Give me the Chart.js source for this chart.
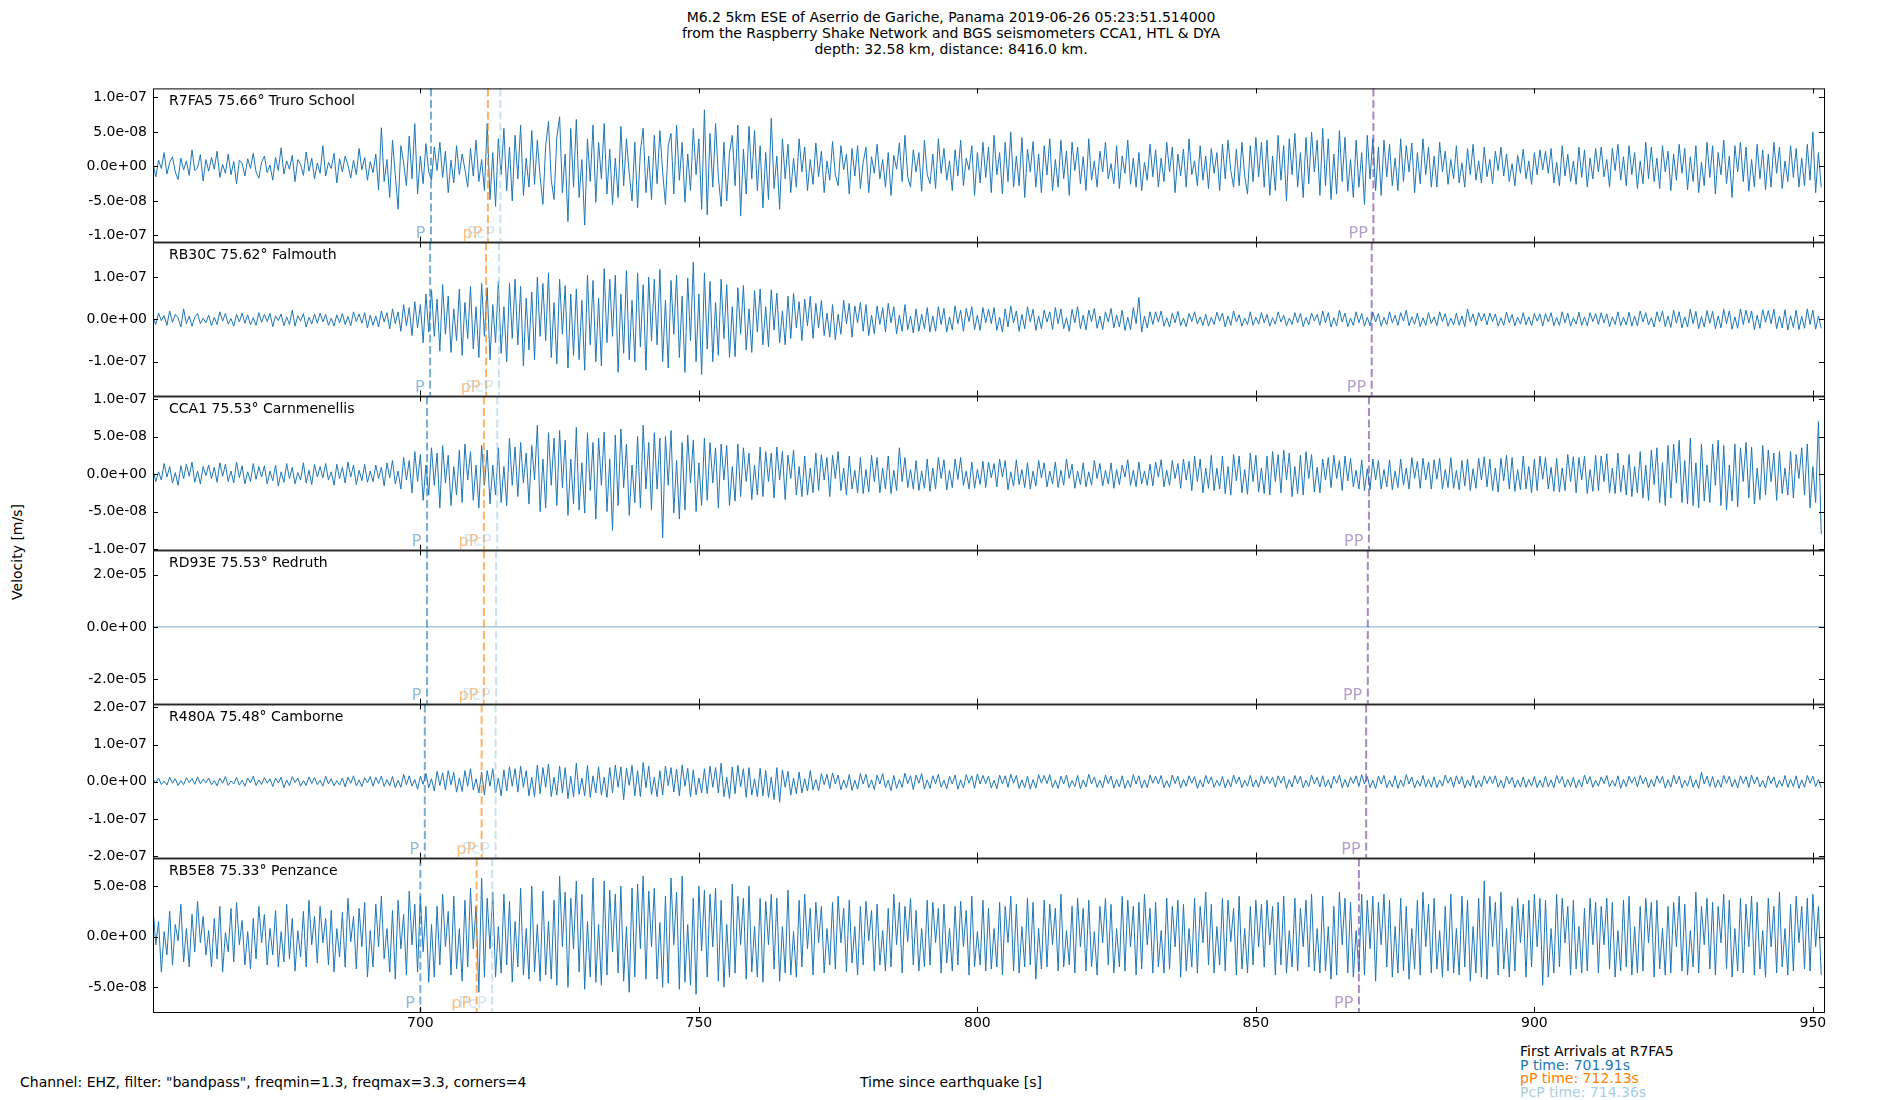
<!DOCTYPE html>
<html>
<head>
<meta charset="utf-8">
<script src="https://cdn.jsdelivr.net/npm/chart.js@4.4.1/dist/chart.umd.min.js"></script>
<style>
  body { margin: 0; width: 1900px; height: 1100px; background: #fff; position: relative; overflow: hidden;
         font-family: "DejaVu Sans", sans-serif; }
  .t { position: absolute; font-size: 14px; line-height: 16px; color: #000; white-space: nowrap; }
  canvas { position: absolute; left: 0; }
</style>
</head>
<body>
<div class="t" style="left:0;width:1902px;text-align:center;top:9px">M6.2 5km ESE of Aserrio de Gariche, Panama 2019-06-26 05:23:51.514000</div>
<div class="t" style="left:0;width:1902px;text-align:center;top:25px">from the Raspberry Shake Network and BGS seismometers CCA1, HTL &amp; DYA</div>
<div class="t" style="left:0;width:1902px;text-align:center;top:41px">depth: 32.58 km, distance: 8416.0 km.</div>
<div class="t" style="left:17px;top:552px;transform:translate(-50%,-50%) rotate(-90deg)">Velocity [m/s]</div>
<div class="t" style="left:20px;top:1074px">Channel: EHZ, filter: "bandpass", freqmin=1.3, freqmax=3.3, corners=4</div>
<div class="t" style="left:0;width:1902px;text-align:center;top:1074px">Time since earthquake [s]</div>
<div class="t" style="left:1520px;top:1043px">First Arrivals at R7FA5</div>
<div class="t" style="left:1520px;top:1057px;color:#1f78b4">P time: 701.91s</div>
<div class="t" style="left:1520px;top:1070px;color:#ff7f00">pP time: 712.13s</div>
<div class="t" style="left:1520px;top:1084px;color:#a6cee3">PcP time: 714.36s</div>

<script>
// traces: one sample every 0.5 s from 652 s, values in 1e-9 m/s
const T0 = 652;
const DT = 0.5;

const r7fa5Vals = [
  4,-15,9,-3,20,-11,6,14,-8,-19,12,-5,8,-13,24,-6,-2,17,-21,10,
  -7,13,-4,22,-16,3,-10,18,-12,7,-25,9,5,-14,11,-3,19,-8,-17,6,
  15,-9,2,-20,13,-6,27,-11,8,-4,16,-22,10,3,-13,21,-7,12,-18,5,
  -10,30,-14,6,-3,19,-24,11,-8,15,2,-17,9,-12,26,-5,13,-20,7,-9,
  18,-34,56,-22,10,-45,38,-12,-62,30,5,-28,44,-18,62,-40,15,-25,33,-8,
  -20,28,-6,35,-16,22,-38,9,-24,30,-12,18,-4,-30,26,-14,38,-22,10,-35,
  62,-48,20,-58,40,-12,55,-35,28,-50,45,-18,60,-42,12,-30,52,-26,38,-15,
  -55,30,65,-20,-48,42,72,-38,18,-80,55,-30,68,-45,10,-85,40,-22,60,-52,
  35,-18,62,-40,25,-55,12,-45,58,-28,40,-10,-50,35,-60,22,55,-38,15,-48,
  45,-25,52,-8,-55,30,48,-40,60,-20,35,-52,18,-35,55,-12,40,-62,82,-70,
  48,-30,62,-15,-58,35,-50,20,45,-28,60,-72,25,-40,58,-18,52,-35,30,-60,
  20,-48,70,-32,15,-62,40,-18,32,-38,12,-30,40,-8,28,-35,10,-26,34,-15,
  22,-38,8,-20,36,-12,-28,30,-5,18,-40,26,-14,30,-32,6,28,-38,14,-10,
  32,-18,10,-30,20,-42,16,-4,34,-22,45,-15,-30,24,-8,20,-36,38,-12,-25,
  18,-32,40,-10,26,-20,8,-35,24,-14,38,-28,12,-5,30,-42,20,-24,35,-16,
  28,-38,45,-12,20,-40,35,-22,50,-30,15,-28,42,-45,25,-8,36,-30,18,-38,
  30,-12,40,-35,10,-30,38,-18,22,-42,35,-6,28,-25,14,-35,40,-20,8,-30,
  22,-8,35,-18,4,-25,30,-32,15,-10,38,-26,12,-30,20,-35,6,-20,32,-15,
  24,-30,12,-22,35,-8,28,-38,18,-14,25,-30,40,-12,8,-28,30,-20,15,-32,
  26,-10,20,-35,32,-18,38,-6,-30,25,-28,35,-14,-40,30,-22,42,-15,35,-30,
  38,-42,15,-35,45,-20,30,-50,40,-12,48,-30,20,-45,42,-25,50,-8,38,-42,
  55,-28,40,-48,18,-40,52,-22,42,-36,10,-45,38,-30,20,-55,45,-18,40,-35,
  28,-42,38,-15,32,-28,12,-35,40,-22,30,-8,34,-38,20,-25,40,-12,28,-30,
  15,-30,35,-8,22,-26,10,-18,30,-24,5,-30,26,-12,32,-20,8,-24,28,-15,
  10,-25,22,-6,28,-14,18,-22,4,-28,16,-10,25,-18,8,-26,20,-12,24,-5,
  22,-10,26,-24,6,-28,30,-14,18,-22,8,-26,28,-16,24,-30,12,-18,26,-8,
  28,-15,10,-30,26,-6,32,-20,14,-28,30,-12,20,-32,8,-25,35,-18,28,-22,
  12,-32,30,-8,22,-35,18,-20,32,-10,26,-34,14,-22,30,-38,6,-28,35,-16,
  30,-40,20,-12,38,-25,15,-45,30,-8,35,-22,28,-36,10,-30,32,-18,24,-34,
  18,-30,35,-10,28,-32,8,-22,30,-16,26,-30,12,-28,32,-20,50,-38,20,-30
];

const rb30cVals = [
  6,-12,15,-3,9,-14,20,-7,12,4,-18,25,-10,8,-16,5,14,-10,3,-8,
  10,-15,5,-12,18,-4,14,-11,2,-16,12,-6,15,-9,11,-13,4,-14,16,-7,
  12,-5,14,-17,8,-3,13,-15,6,-12,22,-16,9,-4,14,-18,5,-11,13,-9,
  15,-6,12,-14,3,-16,11,-8,14,-12,7,-15,18,-5,13,-9,16,-20,10,-14,
  8,-18,20,-6,16,-22,25,-10,18,-28,35,-15,28,-38,42,-20,35,-55,60,-30,
  70,-40,48,-75,82,-35,55,-78,25,-50,72,-85,40,-45,78,-70,30,-90,85,-40,
  75,-95,35,-55,90,-80,30,-100,85,-45,95,-60,78,-110,50,-72,65,-95,100,-40,
  85,-50,110,-90,40,-105,95,-35,80,-115,60,-85,72,-95,45,-120,105,-60,92,-100,
  50,-110,120,-55,95,-40,105,-125,60,-80,115,-95,45,-100,110,-65,82,-120,100,-50,
  95,-60,118,-100,45,-115,92,-35,105,-90,55,-125,98,-50,135,-100,60,-130,110,-70,
  90,-100,40,-85,95,-45,82,-90,30,-88,75,-35,80,-72,25,-78,68,-30,72,-60,
  30,-65,70,-25,62,-55,20,-60,55,-45,62,-20,42,-50,48,-15,55,-45,38,-20,
  45,-38,15,-42,35,-48,12,-35,45,-10,38,-42,32,-8,40,-28,35,-38,10,-34,
  32,-12,28,-30,38,-8,30,-34,10,-28,35,-24,8,-32,25,-28,12,-22,28,-30,
  8,-28,30,-12,26,-30,6,-25,32,-10,22,-28,26,-5,30,-24,10,-26,28,-8,
  24,-10,28,-26,5,-30,25,-18,32,-8,20,-28,12,-22,30,-6,24,-26,8,-22,
  22,-6,18,-24,28,-10,25,-22,4,-28,24,-8,30,-22,10,-25,22,-5,26,-21,
  8,-24,18,-6,26,-20,10,-18,22,-26,5,-24,28,-10,52,-30,8,-20,18,-12,
  18,-6,20,-16,4,-18,15,-8,19,-15,3,-17,14,-5,18,-11,6,-14,12,-16,
  5,-12,17,-4,15,-18,8,-14,20,-6,11,-16,3,-12,18,-14,5,-11,16,-8,
  12,-16,4,-11,18,-6,10,-15,3,-12,16,-8,14,-17,5,-13,15,-4,12,-14,
  20,-8,16,-18,4,-15,22,-6,15,-17,3,-14,18,-8,14,-16,5,-15,17,-6,
  14,-16,5,-13,18,-8,10,-14,16,-4,22,-15,6,-11,15,-17,4,-14,16,-10,
  6,-15,18,-5,14,-16,3,-13,15,-14,8,-17,25,-6,13,-15,16,-4,14,-13,
  15,-5,13,-16,4,-14,17,-8,12,-15,5,-11,16,-13,6,-15,14,-4,13,-16,
  14,-6,16,-15,5,-14,18,-8,15,-16,4,-11,17,-14,6,-15,16,-5,14,-12,
  16,-8,13,-17,6,-12,18,-15,5,-13,17,-16,8,-15,20,-6,16,-13,4,-18,
  18,-6,20,-17,8,-19,22,-9,18,-20,6,-18,24,-10,19,-22,7,-18,21,-9,
  19,-22,8,-20,24,-10,20,-23,6,-21,25,-12,22,-8,20,-24,10,-21,23,-7,
  21,-10,24,-22,8,-20,23,-25,9,-19,22,-24,7,-21,25,-12,22,-23,8,-21
];

const cca1Vals = [
  5,-10,3,-8,14,-4,10,-12,2,-15,11,-6,13,-3,16,-11,4,-13,10,-2,
  12,-6,9,-11,15,-3,13,-10,4,-12,16,-5,11,-13,3,-10,14,-7,10,-4,
  11,-13,4,-9,12,-16,3,-11,14,-6,9,-13,2,-8,15,-12,5,-14,13,-4,
  10,-5,14,-8,3,-15,13,-6,9,-12,16,-4,12,-14,5,-9,13,-11,4,-10,
  12,-6,9,-16,15,-5,18,-13,4,-20,22,-8,18,-25,30,-10,26,-35,12,-28,
  35,-15,28,-45,38,-12,25,-42,10,-28,32,-38,40,-8,30,-35,12,-45,38,-15,
  32,-40,12,-28,35,-38,10,-42,48,-15,36,-30,42,-12,28,-40,38,-8,65,-50,
  20,-45,55,-15,48,-42,58,-18,45,-55,20,-40,62,-48,15,-52,55,-22,42,-60,
  48,-15,56,-50,20,-75,52,-42,60,-18,40,-55,12,-38,50,-45,65,-20,42,-48,
  55,-20,48,-85,50,-15,58,-52,18,-60,42,-48,52,-12,45,-50,15,-42,48,-35,
  42,-12,35,-45,40,-8,38,-42,10,-36,40,-30,35,-10,28,-34,12,-28,36,-30,
  30,-10,28,-32,36,-8,30,-34,25,-6,32,-28,10,-30,24,-28,8,-25,28,-22,
  26,-8,22,-30,25,-6,30,-22,8,-28,24,-20,5,-25,22,-26,6,-24,25,-10,
  22,-25,8,-20,24,-26,5,-22,35,-10,22,-18,6,-20,18,-22,4,-19,20,-23,
  8,-20,22,-6,19,-21,5,-18,20,-7,22,-15,4,-20,16,-19,6,-14,17,-18,
  16,-5,14,-17,20,-4,18,-21,3,-16,19,-14,6,-18,15,-20,4,-16,18,-5,
  15,-17,4,-13,16,-18,5,-15,20,-6,13,-19,4,-14,15,-17,3,-15,18,-6,
  14,-16,5,-13,15,-19,6,-14,12,-4,19,-15,5,-17,16,-13,4,-15,13,-16,
  16,-4,19,-17,5,-15,18,-6,14,-19,20,-8,17,-22,24,-10,20,-25,8,-19,
  25,-22,8,-20,24,-26,10,-28,26,-9,24,-25,6,-27,28,-10,25,-24,8,-26,
  24,-28,30,-10,26,-25,32,-8,28,-30,10,-26,25,-28,30,-6,26,-24,9,-25,
  20,-8,22,-18,25,-6,18,-22,24,-9,21,-17,5,-20,19,-22,7,-21,20,-8,
  18,-20,6,-17,19,-21,4,-18,20,-15,8,-20,22,-6,17,-19,21,-8,16,-20,
  19,-7,21,-20,6,-18,22,-19,5,-21,18,-16,20,-22,7,-19,21,-8,23,-17,
  20,-22,8,-24,21,-9,25,-20,22,-23,6,-21,24,-20,10,-25,20,-22,24,-7,
  22,-20,9,-23,21,-24,8,-22,26,-10,23,-25,22,-8,24,-26,6,-23,25,-22,
  24,-10,27,-25,8,-26,28,-24,12,-28,26,-30,10,-25,30,-32,12,-35,32,-14,
  35,-38,15,-42,38,-32,40,-12,45,-38,18,-40,48,-42,15,-45,40,-36,12,-38,
  40,-15,45,-42,38,-48,12,-36,40,-44,35,-10,42,-32,36,-40,8,-34,38,-28,
  32,-10,28,-35,30,-26,8,-28,30,-32,26,-6,35,-28,40,-45,10,-38,70,-80
];

// RD93E stays flat for the whole window
const rd93eTimes = [652, 952];
const rd93eVals = [0, 0];

const r480aVals = [
  8,-3,10,-7,2,-9,12,-4,8,-10,3,-8,11,-2,9,-7,13,-5,7,-3,
  10,-8,3,-11,9,-4,14,-10,2,-6,12,-9,4,-12,10,-3,15,-10,5,-7,
  11,-4,8,-13,10,-3,12,-16,5,-11,14,-2,10,-12,3,-10,13,-5,11,-8,
  4,-12,15,-6,8,-11,3,-9,10,-14,12,-4,16,-11,5,-13,11,-3,14,-12,
  12,-5,15,-13,6,-11,14,-16,4,-15,20,-8,16,-12,6,-20,15,-7,22,-16,
  8,-25,28,-10,24,-22,30,-8,25,-28,10,-26,30,-12,35,-22,8,-30,26,-35,
  30,-12,35,-30,10,-38,32,-25,40,-12,35,-28,42,-15,30,-38,12,-40,45,-32,
  38,-15,48,-40,12,-36,42,-30,38,-45,15,-40,50,-34,10,-38,44,-42,16,-30,
  40,-36,12,-42,38,-30,45,-15,40,-48,36,-10,44,-38,30,-40,52,-16,42,-34,
  12,-40,30,-36,42,-10,38,-28,34,-38,45,-12,36,-40,32,-35,10,-30,35,-32,
  42,-15,38,-30,50,-40,12,-45,40,-32,44,-14,35,-42,38,-36,8,-40,36,-38,
  30,-42,12,-48,38,-55,32,-15,28,-36,10,-32,26,-30,8,-25,30,-22,6,-24,
  22,-8,20,-18,24,-6,18,-22,5,-17,19,-23,4,-20,22,-6,20,-16,5,-21,
  18,-6,22,-16,4,-24,17,-18,6,-15,23,-5,16,-21,18,-4,22,-20,5,-18,
  16,-5,20,-15,4,-19,14,-6,18,-20,5,-17,19,-4,16,-18,21,-6,17,-5,
  15,-17,4,-19,18,-6,16,-15,20,-4,17,-18,5,-16,15,-20,6,-17,19,-4,
  17,-5,19,-16,4,-18,15,-6,18,-16,3,-13,17,-19,5,-14,20,-6,13,-15,
  4,-16,18,-5,15,-17,6,-14,16,-18,4,-15,19,-6,16,-17,5,-16,18,-4,
  15,-6,17,-16,3,-15,18,-5,15,-17,6,-12,16,-4,14,-18,5,-14,17,-6,
  13,-15,4,-12,14,-17,6,-14,18,-5,13,-16,4,-12,17,-14,5,-15,16,-6,
  14,-5,12,-15,16,-4,15,-18,6,-14,17,-5,15,-16,4,-13,18,-6,12,-14,
  16,-14,5,-17,15,-4,18,-16,6,-15,12,-5,16,-13,19,-6,14,-16,4,-18,
  15,-6,17,-16,4,-14,16,-18,5,-13,19,-6,13,-17,4,-12,17,-14,6,-15,
  13,-16,5,-12,18,-4,12,-15,16,-6,14,-17,5,-12,17,-16,4,-14,16,-5,
  14,-5,16,-15,4,-17,15,-6,12,-16,5,-14,13,-15,6,-12,14,-16,4,-15,
  15,-14,5,-16,17,-4,14,-15,6,-13,12,-17,5,-14,18,-6,14,-15,4,-12,
  13,-5,17,-14,4,-12,16,-18,6,-13,15,-4,13,-14,17,-5,12,-16,6,-13,
  16,-4,14,-17,5,-15,18,-6,15,-16,4,-12,16,-15,5,-18,26,-6,15,-13,
  14,-16,5,-15,17,-4,15,-14,6,-17,16,-5,14,-15,18,-6,13,-14,4,-17,
  16,-5,13,-16,4,-12,17,-15,6,-13,16,-18,5,-15,17,-4,15,-13,6,-16
];

const rb5e8Vals = [
  28,-8,15,-35,5,-18,25,-28,12,-4,32,-25,8,-30,22,-15,35,-6,20,-18,
  6,-30,18,-22,30,-35,4,-15,28,-25,34,-8,16,-28,5,-32,18,-22,30,-6,
  22,-28,8,-18,26,-30,5,-25,32,-22,18,-34,6,-20,25,-30,36,-8,20,-26,
  30,-6,18,-28,26,-35,8,-20,24,-30,38,-5,20,-32,28,-10,34,-40,6,-30,
  32,-10,40,-22,8,-35,26,-42,36,-12,22,-38,45,-8,32,-35,40,-15,30,-45,
  12,-40,30,-28,42,-10,25,-38,40,-32,8,-44,36,-30,48,-12,30,-55,58,-40,
  38,-12,44,-40,10,-36,42,-28,35,-45,15,-30,48,-38,8,-42,50,-35,12,-44,
  45,-38,15,-42,36,-48,60,-10,44,-50,38,-12,55,-35,42,-52,15,-40,58,-45,
  12,-48,55,-38,46,-15,42,-36,50,-44,10,-55,48,-40,52,-12,60,-42,45,-10,
  48,-42,14,-50,40,-46,58,-8,44,-52,60,-45,12,-48,38,-57,50,-14,46,-40,
  42,-10,48,-44,36,-50,12,-40,52,-36,40,-8,38,-42,50,-35,10,-40,38,-45,
  35,-8,42,-32,38,-44,10,-36,46,-38,5,-40,36,-30,42,-12,28,-38,34,-6,
  30,-36,8,-28,34,-32,40,-6,28,-35,36,-26,10,-38,30,-28,35,-4,26,-34,
  32,-28,6,-34,28,-30,42,-8,34,-36,30,-5,38,-28,26,-34,8,-30,36,-28,
  34,-6,28,-36,32,-26,8,-34,30,-28,35,-10,26,-38,40,-30,5,-28,36,-34,
  28,-32,8,-30,34,-38,30,-6,40,-34,32,-36,10,-30,38,-28,34,-42,8,-32,
  36,-30,32,-8,28,-34,42,-30,6,-28,30,-36,38,-10,28,-34,36,-30,5,-38,
  30,-6,38,-28,32,-36,8,-30,40,-34,36,-10,30,-38,34,-32,42,-8,28,-36,
  34,-30,6,-36,38,-32,30,-10,36,-40,32,-34,8,-30,38,-36,30,-6,44,-28,
  32,-36,10,-28,38,-34,36,-5,28,-38,40,-32,8,-36,30,-28,36,-10,32,-30,
  36,-8,30,-38,34,-28,40,-36,6,-30,38,-34,28,-10,36,-30,42,-34,8,-36,
  40,-34,10,-42,30,-38,44,-8,38,-36,34,-40,6,-35,42,-38,36,-12,40,-44,
  34,-8,42,-30,36,-40,10,-36,38,-34,30,-42,8,-32,36,-38,44,-10,32,-36,
  38,-32,6,-40,30,-34,42,-36,8,-38,40,-30,36,-44,10,-36,38,-40,55,-42,
  40,-10,34,-38,44,-32,8,-40,30,-34,38,-6,32,-40,36,-30,42,-10,38,-48,
  36,-40,8,-36,42,-30,38,-6,30,-38,36,-32,10,-36,28,-34,38,-8,34,-36,
  30,-8,38,-32,34,-40,6,-34,36,-30,40,-38,10,-36,30,-34,38,-6,34,-40,
  36,-32,8,-38,30,-36,34,-10,40,-34,32,-38,6,-30,44,-36,30,-8,38,-32,
  34,-38,30,-6,42,-32,36,-40,8,-34,38,-36,32,-10,40,-38,34,-32,6,-40,
  38,-10,30,-36,44,-30,8,-38,32,-34,40,-6,30,-32,38,-34,42,-10,30,-38
];

const stationLabels = [
  'R7FA5 75.66° Truro School',
  'RB30C 75.62° Falmouth',
  'CCA1 75.53° Carnmenellis',
  'RD93E 75.53° Redruth',
  'R480A 75.48° Camborne',
  'RB5E8 75.33° Penzance'
];

// y limits and tick values per panel (m/s)
const yMins = [-1.089e-7, -1.80e-7, -1.006e-7, -2.95e-5, -2.04e-7, -7.45e-8];
const yMaxs = [1.13e-7, 1.82e-7, 1.034e-7, 2.94e-5, 2.08e-7, 7.74e-8];
const yTicks = [
  [-1e-7, -5e-8, 0, 5e-8, 1e-7],
  [-1e-7, 0, 1e-7],
  [-1e-7, -5e-8, 0, 5e-8, 1e-7],
  [-2e-5, 0, 2e-5],
  [-2e-7, -1e-7, 0, 1e-7, 2e-7],
  [-5e-8, 0, 5e-8]
];

const xMin = 652;
const xMax = 952;
const xTicks = [700, 750, 800, 850, 900, 950];

// phase arrival times (s) at each station
const phaseNames = ['P', 'pP', 'PcP', 'PP'];
const phaseColors = ['31,120,180', '255,127,0', '166,206,227', '106,61,154'];
const pTimes = [701.91, 701.75, 701.2, 701.2, 700.8, 700.0];
const pPTimes = [712.13, 711.8, 711.4, 711.4, 711.0, 710.1];
const pcpTimes = [714.36, 714.1, 713.8, 713.6, 713.5, 712.9];
const ppTimes = [871.1, 870.8, 870.3, 870.1, 869.8, 868.5];
const phaseTimes = [pTimes, pPTimes, pcpTimes, ppTimes];

const traces = [r7fa5Vals, rb30cVals, cca1Vals, null, r480aVals, rb5e8Vals];

const PANEL_TOP = 88;
const PANEL_H = 154;
const AXIS_LEFT = 153;
const AXIS_RIGHT = 1824;
const PAD = 14;
const FONT = { family: 'DejaVu Sans', size: 14 };

function sci(v) {
  if (v === 0) return '0.0e+00';
  const parts = v.toExponential(1).split('e');
  const n = parseInt(parts[1], 10);
  return parts[0] + 'e' + (n < 0 ? '-' : '+') + String(Math.abs(n)).padStart(2, '0');
}

function tracePoints(i) {
  if (i === 3) return rd93eTimes.map((t, k) => ({ x: t, y: rd93eVals[k] }));
  return traces[i].map((v, k) => ({ x: T0 + k * DT, y: v * 1e-9 }));
}

// box around the panel plus inward tick marks on all four sides
const framePlugin = {
  id: 'frame',
  afterDraw(chart) {
    const { ctx, chartArea: a, scales } = chart;
    ctx.save();
    ctx.strokeStyle = '#000';
    ctx.lineWidth = 1;
    ctx.beginPath();
    scales.x.ticks.forEach(t => {
      const px = Math.round(scales.x.getPixelForValue(t.value)) + 0.5;
      ctx.moveTo(px, a.top); ctx.lineTo(px, a.top + 5);
      ctx.moveTo(px, a.bottom); ctx.lineTo(px, a.bottom - 5);
    });
    scales.y.ticks.forEach(t => {
      const py = Math.round(scales.y.getPixelForValue(t.value)) + 0.5;
      ctx.moveTo(a.left, py); ctx.lineTo(a.left + 5, py);
      ctx.moveTo(a.right, py); ctx.lineTo(a.right - 5, py);
    });
    ctx.stroke();
    ctx.strokeRect(a.left + 0.5, a.top + 0.5, a.right - a.left, a.bottom - a.top);
    ctx.restore();
  }
};

// dashed arrival lines, their names and the station label
const phasePlugin = {
  id: 'phases',
  afterDatasetsDraw(chart, args, opts) {
    const { ctx, chartArea: a, scales: { x } } = chart;
    const i = opts.panel;
    ctx.save();
    phaseTimes.forEach((times, k) => {
      const px = x.getPixelForValue(times[i]);
      ctx.strokeStyle = 'rgba(' + phaseColors[k] + ',0.6)';
      ctx.lineWidth = 2;
      ctx.setLineDash([8, 3.5]);
      ctx.beginPath();
      ctx.moveTo(px, a.top);
      ctx.lineTo(px, a.bottom);
      ctx.stroke();
    });
    ctx.setLineDash([]);
    ctx.font = '16px "DejaVu Sans"';
    ctx.textAlign = 'right';
    ctx.textBaseline = 'alphabetic';
    phaseTimes.forEach((times, k) => {
      ctx.fillStyle = 'rgba(' + phaseColors[k] + ',0.5)';
      ctx.fillText(phaseNames[k], x.getPixelForValue(times[i] - 1), a.bottom - 4);
    });
    ctx.fillStyle = '#000';
    ctx.font = '14px "DejaVu Sans"';
    ctx.textAlign = 'left';
    ctx.textBaseline = 'middle';
    ctx.fillText(stationLabels[i], 169, a.top + 12.5);
    ctx.restore();
  }
};

stationLabels.forEach((label, i) => {
  const last = i === stationLabels.length - 1;
  const xAxisH = last ? 24 : 0;
  const canvas = document.createElement('canvas');
  const h = PANEL_H + 2 * PAD + xAxisH;
  canvas.width = 1900;
  canvas.height = h;
  canvas.style.width = '1900px';
  canvas.style.height = h + 'px';
  canvas.style.top = (PANEL_TOP + i * PANEL_H - PAD) + 'px';
  document.body.appendChild(canvas);

  new Chart(canvas, {
    type: 'line',
    data: {
      datasets: [{
        data: tracePoints(i),
        borderColor: i === 3 ? 'rgba(31,119,180,0.6)' : '#1f77b4',
        borderWidth: 1,
        pointRadius: 0,
        tension: 0,
        fill: false
      }]
    },
    options: {
      responsive: false,
      animation: false,
      events: [],
      layout: { padding: { left: 0, right: 1900 - AXIS_RIGHT, top: PAD, bottom: PAD } },
      plugins: {
        legend: { display: false },
        tooltip: { enabled: false },
        phases: { panel: i }
      },
      scales: {
        x: {
          type: 'linear',
          min: xMin,
          max: xMax,
          afterBuildTicks: s => { s.ticks = xTicks.map(v => ({ value: v })); },
          afterFit: s => { s.height = xAxisH; },
          grid: { display: false, drawTicks: false },
          border: { display: false },
          ticks: { display: last, padding: 3, color: '#000', font: FONT, maxRotation: 0, autoSkip: false }
        },
        y: {
          type: 'linear',
          min: yMins[i],
          max: yMaxs[i],
          afterBuildTicks: s => { s.ticks = yTicks[i].map(v => ({ value: v })); },
          afterFit: s => { s.width = AXIS_LEFT; },
          grid: { display: false, drawTicks: false },
          border: { display: false },
          ticks: { padding: 6, color: '#000', font: FONT, autoSkip: false, callback: v => sci(v) }
        }
      }
    },
    plugins: [framePlugin, phasePlugin]
  });
});
</script>
</body>
</html>
